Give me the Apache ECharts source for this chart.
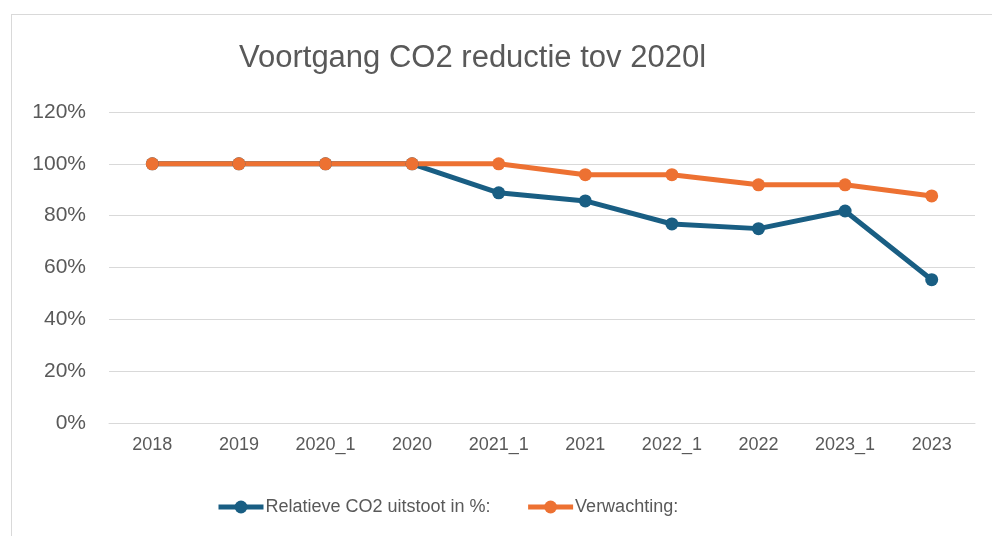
<!DOCTYPE html>
<html>
<head>
<meta charset="utf-8">
<script src="https://cdn.jsdelivr.net/npm/echarts@6/dist/echarts.min.js"></script>
<style>
html,body{margin:0;padding:0;background:#fff;}
#frame{position:absolute;left:11px;top:14px;width:990px;height:530px;border-left:1px solid #d9d9d9;border-top:1px solid #d9d9d9;}
#chart{position:absolute;left:0;top:0;width:992px;height:536px;}
</style>
</head>
<body>
<div id="frame"></div>
<div id="chart"></div>
<script>
const categories = ['2018','2019','2020_1','2020','2021_1','2021','2022_1','2022','2023_1','2023'];
const relatieve = [100, 100, 100, 100, 88.8, 85.7, 76.8, 75.0, 81.8, 55.3];
const verwachting = [100, 100, 100, 100, 100, 95.8, 95.8, 91.9, 91.9, 87.6];
const yTicks = [0, 20, 40, 60, 80, 100, 120];

const chart = echarts.init(document.getElementById('chart'));
chart.setOption({
  animation: false,
  title: {
    text: 'Voortgang CO2 reductie tov 2020l',
    left: 234,
    top: 38,
    textStyle: {fontFamily: 'Liberation Sans', fontSize: 31, fontWeight: 'normal', color: '#595959'}
  },
  grid: {left: 109, right: 17, top: 112, bottom: 113},
  legend: {
    bottom: 15,
    left: 211,
    itemWidth: 45,
    itemHeight: 16,
    itemGap: 35,
    lineStyle: {width: 5},
    textStyle: {fontFamily: 'Liberation Sans', fontSize: 18, color: '#595959', padding: [0,0,0,-3]},
    data: ['Relatieve CO2 uitstoot in %:', 'Verwachting:']
  },
  xAxis: {
    type: 'category',
    data: categories,
    axisLine: {lineStyle: {color: '#d9d9d9', width: 1}},
    axisTick: {show: false},
    axisLabel: {fontFamily: 'Liberation Sans', fontSize: 18, color: '#595959', margin: 13}
  },
  yAxis: {
    type: 'value',
    min: yTicks[0],
    max: yTicks[yTicks.length-1],
    interval: 20,
    axisLine: {show: false},
    axisTick: {show: false},
    splitLine: {lineStyle: {color: '#d9d9d9', width: 1}},
    axisLabel: {fontFamily: 'Liberation Sans', fontSize: 21, color: '#595959', margin: 23, formatter: v => v + '%'}
  },
  series: [
    {
      name: 'Relatieve CO2 uitstoot in %:',
      type: 'line',
      data: relatieve,
      symbol: 'circle',
      symbolSize: 13,
      lineStyle: {color: '#195E83', width: 5},
      itemStyle: {color: '#195E83'}
    },
    {
      name: 'Verwachting:',
      type: 'line',
      data: verwachting,
      symbol: 'circle',
      symbolSize: 13,
      lineStyle: {color: '#ED7132', width: 5},
      itemStyle: {color: '#ED7132'}
    }
  ]
});
</script>
</body>
</html>
